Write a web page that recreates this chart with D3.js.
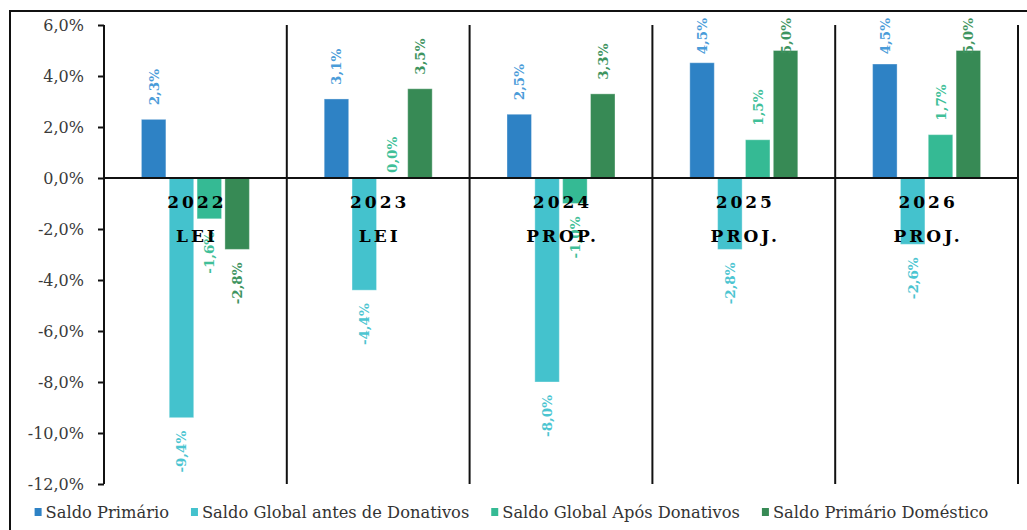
<!DOCTYPE html>
<html><head><meta charset="utf-8">
<script src="https://cdn.jsdelivr.net/npm/d3@7/dist/d3.min.js"></script>
<style>html,body{margin:0;padding:0;background:#fff;}svg{display:block;}</style>
</head><body>
<svg id="chart" width="1027" height="530"></svg>
<script>
const years = ["2022", "2023", "2024", "2025", "2026"];
const yearStatus = ["LEI", "LEI", "PROP.", "PROJ.", "PROJ."];
const seriesNames = ["Saldo Primário", "Saldo Global antes de Donativos", "Saldo Global Após Donativos", "Saldo Primário Doméstico"];
const saldoPrimario = [2.3, 3.1, 2.5, 4.52, 4.47];
const saldoGlobalAntes = [-9.4, -4.4, -8.0, -2.8, -2.6];
const saldoGlobalApos = [-1.6, 0.0, -1.0, 1.5, 1.7];
const saldoPrimarioDomestico = [-2.8, 3.5, 3.3, 5.0, 5.0];
const yTicks = [6, 4, 2, 0, -2, -4, -6, -8, -10, -12];

const seriesValues = [saldoPrimario, saldoGlobalAntes, saldoGlobalApos, saldoPrimarioDomestico];
const barColors = ["#2E82C5", "#44C2CD", "#35BA94", "#378A55"];
const labelColors = ["#4A9CD9", "#4CC5D1", "#40BF98", "#3E9460"];

const svg = d3.select("#chart");
const W = 1027, H = 530;
const plot = {left: 104, right: 1018, top: 25, bottom: 484};
const serif = "'DejaVu Serif', serif";

// outer frame
svg.append("path").attr("d", `M10,${H+5} L10,11 L${W+5},11`)
  .attr("fill", "none").attr("stroke", "#111").attr("stroke-width", 2);

const x = d3.scaleBand().domain(years).range([plot.left, plot.right]).padding(0);
const groupW = 108;
const xs = d3.scaleBand().domain(seriesNames).range([0, groupW]).paddingInner(0.12);
const y = d3.scaleLinear().domain([-12, 6]).range([plot.bottom, plot.top]);

const fmt = v => d3.format(".1f")(v).replace(".", ",").replace("−", "-") + "%";

// y axis
const yAxis = d3.axisLeft(y).tickValues(yTicks).tickSize(6).tickPadding(14)
  .tickFormat(d => d3.format(".1f")(d).replace(".", ",").replace("−", "-") + "%");
const ga = svg.append("g").attr("transform", `translate(${plot.left},0)`).call(yAxis);
ga.select(".domain").remove();
ga.selectAll(".tick line").attr("stroke", "#111").attr("stroke-width", 2);
ga.selectAll(".tick text").attr("font-family", serif).attr("font-size", 16).attr("fill", "#3a3a3a");

// vertical separators
const seps = [plot.left].concat(years.map(yr => x(yr) + x.bandwidth()));
svg.append("g").selectAll("line").data(seps).join("line")
  .attr("x1", d => d).attr("x2", d => d)
  .attr("y1", plot.top).attr("y2", plot.bottom)
  .attr("stroke", "#111").attr("stroke-width", 2);

// bars
const rows = [];
seriesNames.forEach((s, si) => {
  years.forEach((yr, i) => rows.push({s, si, yr, v: seriesValues[si][i]}));
});
const gx = yr => x(yr) + (x.bandwidth() - groupW) / 2;
svg.append("g").selectAll("rect").data(rows.filter(r => r.v !== 0)).join("rect")
  .attr("x", d => gx(d.yr) + xs(d.s))
  .attr("width", xs.bandwidth())
  .attr("y", d => Math.min(y(d.v), y(0)))
  .attr("height", d => Math.abs(y(d.v) - y(0)))
  .attr("fill", d => barColors[d.si])
  .attr("stroke", "rgba(255,255,255,0.35)").attr("stroke-width", 1);

// zero line
svg.append("line").attr("x1", plot.left).attr("x2", plot.right)
  .attr("y1", y(0)).attr("y2", y(0)).attr("stroke", "#111").attr("stroke-width", 2);

// data labels
const lg = svg.append("g");
rows.forEach(d => {
  const cx = gx(d.yr) + xs(d.s) + xs.bandwidth() / 2;
  const t = lg.append("text")
    .attr("font-family", serif).attr("font-size", 13.5).attr("font-weight", "bold")
    .attr("fill", labelColors[d.si]).attr("dominant-baseline", "central")
    .text(fmt(d.v));
  const L = t.node().getComputedTextLength();
  let yy, anchor;
  if (d.v >= 0) {
    const gap = d.v === 0 ? 5 : 14;
    yy = y(d.v) - gap;
    if (yy - L < 18) yy = 18 + L;
    anchor = "start";
  } else {
    yy = y(d.v) + 13;
    anchor = "end";
  }
  t.attr("text-anchor", anchor).attr("transform", `translate(${cx},${yy}) rotate(-90)`);
});

// category labels
const cg = svg.append("g");
years.forEach((yr, i) => {
  const cx = x(yr) + x.bandwidth() / 2;
  cg.append("text").attr("x", cx + 1.5).attr("y", 208).attr("text-anchor", "middle")
    .attr("font-family", serif).attr("font-weight", "bold").attr("font-size", 17)
    .attr("letter-spacing", 3).attr("fill", "#000").text(yr);
  cg.append("text").attr("x", cx + 1.5).attr("y", 242).attr("text-anchor", "middle")
    .attr("font-family", serif).attr("font-weight", "bold").attr("font-size", 17)
    .attr("letter-spacing", 3).attr("fill", "#000").text(yearStatus[i]);
});

// legend
const leg = svg.append("g");
const items = seriesNames.map((s, i) => {
  const g = leg.append("g");
  g.append("rect").attr("x", 0).attr("y", -4).attr("width", 7).attr("height", 8).attr("fill", barColors[i]);
  const t = g.append("text").attr("x", 11).attr("y", 0).attr("dominant-baseline", "central")
    .attr("font-family", serif).attr("font-size", 16.3).attr("fill", "#333").text(s);
  return {g, w: 11 + t.node().getComputedTextLength()};
});
const gap = 22;
const total = d3.sum(items, d => d.w) + gap * (items.length - 1);
let cur = 511.5 - total / 2;
items.forEach(it => { it.g.attr("transform", `translate(${cur},512)`); cur += it.w + gap; });
</script>
</body></html>
